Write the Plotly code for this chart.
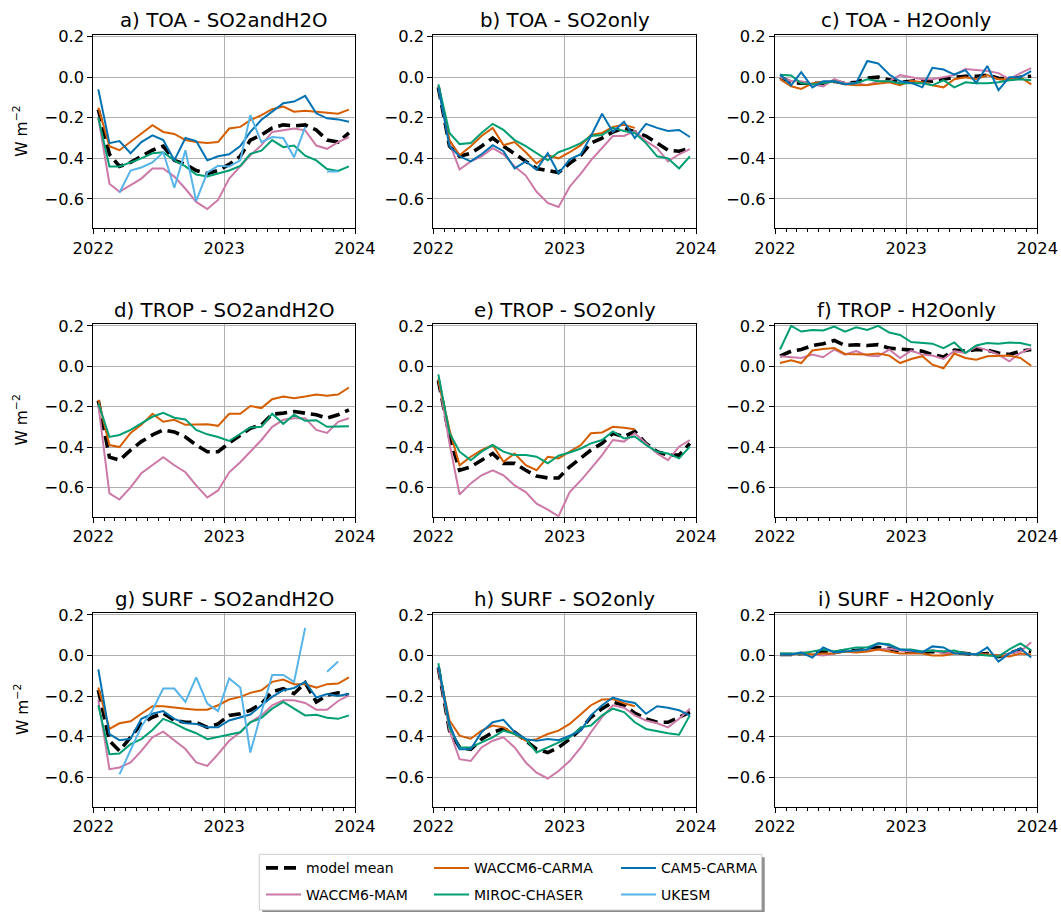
import plotly.graph_objects as go
from plotly.subplots import make_subplots

N = None

# ---------------- data ----------------
dates = ["2022-01-15", "2022-02-15", "2022-03-15", "2022-04-15", "2022-05-15", "2022-06-15",
         "2022-07-15", "2022-08-15", "2022-09-15", "2022-10-15", "2022-11-15", "2022-12-15",
         "2023-01-15", "2023-02-15", "2023-03-15", "2023-04-15", "2023-05-15", "2023-06-15",
         "2023-07-15", "2023-08-15", "2023-09-15", "2023-10-15", "2023-11-15", "2023-12-15"]

model_names = ["model mean", "WACCM6-MAM", "WACCM6-CARMA", "MIROC-CHASER", "CAM5-CARMA", "UKESM"]
model_colors = ["#000000", "#CC79A7", "#D55E00", "#009E73", "#0072B2", "#56B4E9"]

panel_titles = ["a) TOA - SO2andH2O", "b) TOA - SO2only", "c) TOA - H2Oonly",
                "d) TROP - SO2andH2O", "e) TROP - SO2only", "f) TROP - H2Oonly",
                "g) SURF - SO2andH2O", "h) SURF - SO2only", "i) SURF - H2Oonly"]

y_tickvals = [0.2, 0.0, -0.2, -0.4, -0.6]
y_ticktext = ["0.2", "0.0", "\u22120.2", "\u22120.4", "\u22120.6"]
x_tickvals = ["2022-01-01", "2023-01-01", "2024-01-01"]
x_ticktext = ["2022", "2023", "2024"]

# a) TOA - SO2andH2O
a_mean = [-0.16, -0.38, -0.44, -0.42, -0.39, -0.36, -0.34, -0.41, -0.43, -0.46, -0.475, -0.46,
          -0.43, -0.39, -0.31, -0.285, -0.25, -0.235, -0.24, -0.235, -0.26, -0.31, -0.32, -0.275]
a_mam = [-0.2, -0.525, -0.565, -0.53, -0.5, -0.45, -0.45, -0.49, -0.55, -0.615, -0.65, -0.605,
         -0.5, -0.44, -0.385, -0.335, -0.27, -0.262, -0.253, -0.262, -0.337, -0.353, -0.32, -0.295]
a_carma = [-0.15, -0.34, -0.36, -0.32, -0.28, -0.237, -0.27, -0.28, -0.31, -0.32, -0.325, -0.32,
           -0.253, -0.245, -0.212, -0.187, -0.158, -0.145, -0.17, -0.165, -0.17, -0.175, -0.18, -0.16]
a_miroc = [-0.2, -0.44, -0.44, -0.42, -0.40, -0.375, -0.37, -0.41, -0.44, -0.48, -0.49, -0.475,
           -0.46, -0.437, -0.378, -0.362, -0.31, -0.345, -0.337, -0.387, -0.41, -0.453, -0.462, -0.44]
a_cam5 = [-0.06, -0.325, -0.315, -0.375, -0.32, -0.287, -0.31, -0.41, -0.30, -0.315, -0.41, -0.39,
          -0.38, -0.34, -0.27, -0.21, -0.17, -0.128, -0.12, -0.092, -0.178, -0.203, -0.208, -0.22]
a_ukesm = [N, N, -0.57, -0.46, -0.445, -0.42, -0.37, -0.545, -0.36, -0.61, -0.47, -0.437,
           -0.44, -0.41, -0.187, -0.32, -0.295, -0.30, -0.395, -0.245, N, -0.465, -0.465, N]

# b) TOA - SO2only
b_mean = [-0.05, -0.34, -0.39, -0.375, -0.34, -0.30, -0.34, -0.375, -0.415, -0.45, -0.46, -0.47,
          -0.425, -0.385, -0.325, -0.30, -0.27, -0.25, -0.27, -0.29, -0.325, -0.36, -0.365, -0.35]
b_mam = [-0.045, -0.325, -0.455, -0.415, -0.39, -0.35, -0.38, -0.44, -0.485, -0.565, -0.62, -0.64,
         -0.54, -0.475, -0.41, -0.35, -0.29, -0.29, -0.265, -0.315, -0.35, -0.415, -0.38, -0.355]
b_carma = [-0.045, -0.31, -0.385, -0.34, -0.29, -0.25, -0.335, -0.32, -0.37, -0.425, -0.385, -0.40,
           -0.37, -0.335, -0.285, -0.275, -0.245, -0.235, -0.25, N, N, N, N, N]
b_miroc = [-0.035, -0.275, -0.33, -0.325, -0.275, -0.23, -0.26, -0.31, -0.34, -0.375, -0.41, -0.37,
           -0.35, -0.325, -0.29, -0.285, -0.25, -0.265, -0.275, -0.325, -0.39, -0.40, -0.45, -0.39]
b_cam5 = [-0.05, -0.34, -0.39, -0.415, -0.38, -0.335, -0.365, -0.45, -0.415, -0.455, -0.375, -0.475,
          -0.405, -0.38, -0.29, -0.18, -0.27, -0.22, -0.30, -0.23, -0.25, -0.265, -0.26, -0.295]

# c) TOA - H2Oonly
c_mean = [0.0, -0.025, -0.03, -0.03, -0.03, -0.02, -0.03, -0.025, -0.005, 0.0, -0.015, -0.025,
          -0.02, -0.015, -0.02, -0.01, 0.0, 0.005, 0.005, 0.01, -0.005, -0.01, 0.0, 0.005]
c_mam = [0.0, -0.02, -0.02, -0.035, -0.045, -0.01, -0.03, -0.03, -0.04, -0.02, -0.02, 0.01,
         0.0, -0.01, -0.01, 0.0, 0.01, 0.04, 0.035, 0.03, 0.02, -0.01, 0.02, 0.045]
c_carma = [-0.01, -0.045, -0.058, -0.03, -0.025, -0.02, -0.035, -0.04, -0.038, -0.03, -0.025, -0.04,
           -0.018, -0.025, -0.04, -0.05, -0.01, 0.0, -0.01, 0.01, -0.01, -0.01, 0.0, -0.035]
c_miroc = [0.012, 0.008, -0.03, -0.035, -0.03, -0.02, -0.035, -0.03, -0.01, -0.02, -0.02, -0.03,
           -0.03, -0.03, -0.04, -0.015, -0.05, -0.025, -0.03, -0.03, -0.025, -0.015, -0.01, -0.015]
c_cam5 = [0.013, -0.04, 0.025, -0.05, -0.02, -0.02, -0.035, -0.028, 0.08, 0.068, 0.013, -0.02,
          -0.028, -0.05, 0.046, 0.038, 0.013, 0.035, -0.028, 0.055, -0.064, 0.0, 0.0, 0.03]

# d) TROP - SO2andH2O
d_mean = [-0.17, -0.45, -0.465, -0.415, -0.373, -0.34, -0.315, -0.325, -0.35, -0.39, -0.423, -0.423,
          -0.38, -0.34, -0.307, -0.29, -0.237, -0.232, -0.224, -0.232, -0.24, -0.257, -0.24, -0.216]
d_mam = [-0.19, -0.63, -0.66, -0.60, -0.53, -0.49, -0.45, -0.49, -0.525, -0.59, -0.65, -0.615,
         -0.525, -0.475, -0.425, -0.365, -0.30, -0.265, -0.257, -0.257, -0.315, -0.33, -0.275, -0.257]
d_carma = [-0.166, -0.39, -0.40, -0.33, -0.29, -0.235, -0.275, -0.265, -0.29, -0.287, -0.287, -0.295,
           -0.235, -0.235, -0.197, -0.207, -0.163, -0.15, -0.158, -0.15, -0.14, -0.146, -0.14, -0.105]
d_miroc = [-0.183, -0.35, -0.34, -0.315, -0.283, -0.25, -0.23, -0.255, -0.263, -0.315, -0.337, -0.35,
           -0.37, -0.337, -0.303, -0.30, -0.235, -0.285, -0.24, -0.27, -0.267, -0.30, -0.30, -0.297]

# e) TROP - SO2only
e_mean = [-0.07, -0.348, -0.515, -0.498, -0.465, -0.432, -0.481, -0.481, -0.515, -0.544, -0.553, -0.553,
          -0.498, -0.456, -0.415, -0.382, -0.332, -0.348, -0.323, -0.382, -0.423, -0.44, -0.44, -0.382]
e_mam = [-0.058, -0.382, -0.635, -0.58, -0.54, -0.515, -0.54, -0.59, -0.623, -0.68, -0.71, -0.743,
         -0.623, -0.565, -0.507, -0.44, -0.365, -0.373, -0.332, -0.382, -0.432, -0.465, -0.398, -0.365]
e_carma = [-0.066, -0.315, -0.49, -0.448, -0.415, -0.39, -0.473, -0.432, -0.49, -0.515, -0.448, -0.456,
           -0.423, -0.39, -0.332, -0.328, -0.30, -0.304, -0.312, N, N, N, N, N]
e_miroc = [-0.04, -0.33, -0.423, -0.465, -0.423, -0.39, -0.423, -0.44, -0.44, -0.448, -0.48, -0.443,
           -0.427, -0.407, -0.382, -0.365, -0.323, -0.357, -0.348, -0.39, -0.423, -0.432, -0.456, -0.398]

# f) TROP - H2Oonly
f_mean = [0.05, 0.075, 0.083, 0.103, 0.112, 0.128, 0.103, 0.107, 0.103, 0.107, 0.09, 0.083,
          0.08, 0.075, 0.058, 0.046, 0.08, 0.075, 0.083, 0.08, 0.066, 0.058, 0.075, 0.083]
f_mam = [0.05, 0.045, 0.041, 0.058, 0.045, 0.083, 0.058, 0.075, 0.053, 0.05, 0.083, 0.041,
         0.078, 0.058, 0.053, 0.036, 0.075, 0.066, 0.096, 0.08, 0.058, 0.025, 0.066, 0.09]
f_carma = [0.016, 0.03, 0.016, 0.078, 0.086, 0.09, 0.061, 0.061, 0.058, 0.063, 0.053, 0.016,
           0.036, 0.05, 0.008, -0.01, 0.063, 0.041, 0.033, 0.05, 0.053, 0.053, 0.041, 0.003]
f_miroc = [0.083, 0.20, 0.172, 0.18, 0.177, 0.197, 0.172, 0.193, 0.18, 0.20, 0.167, 0.155,
           0.12, 0.115, 0.112, 0.09, 0.118, 0.066, 0.103, 0.115, 0.112, 0.118, 0.115, 0.103]

# g) SURF - SO2andH2O
g_mean = [-0.17, -0.42, -0.47, -0.403, -0.337, -0.304, -0.284, -0.32, -0.329, -0.329, -0.354, -0.337,
          -0.295, -0.287, -0.27, -0.237, -0.179, -0.163, -0.188, -0.134, -0.229, -0.196, -0.184, -0.196]
g_mam = [-0.22, -0.56, -0.552, -0.527, -0.47, -0.403, -0.375, -0.417, -0.461, -0.527, -0.544, -0.486,
         -0.42, -0.378, -0.329, -0.295, -0.245, -0.221, -0.221, -0.234, -0.267, -0.267, -0.224, -0.196]
g_carma = [-0.158, -0.362, -0.334, -0.324, -0.287, -0.25, -0.25, -0.257, -0.262, -0.267, -0.267, -0.245,
           -0.217, -0.204, -0.184, -0.171, -0.13, -0.118, -0.141, -0.141, -0.158, -0.141, -0.138, -0.108]
g_miroc = [-0.245, -0.486, -0.483, -0.437, -0.412, -0.367, -0.312, -0.334, -0.362, -0.383, -0.412, -0.40,
           -0.39, -0.378, -0.329, -0.307, -0.262, -0.229, -0.262, -0.295, -0.292, -0.307, -0.312, -0.295]
g_cam5 = [-0.068, -0.387, -0.417, -0.41, -0.312, -0.287, -0.274, -0.312, -0.334, -0.337, -0.354, -0.354,
          -0.32, -0.304, -0.291, -0.245, -0.204, -0.171, -0.16, -0.13, -0.207, -0.19, -0.2, -0.188]
g_ukesm = [N, N, -0.586, -0.47, -0.35, -0.27, -0.163, -0.163, -0.229, -0.108, -0.237, -0.274,
           -0.113, -0.158, -0.478, -0.28, -0.096, -0.096, -0.13, 0.136, N, -0.08, -0.03, N]

# h) SURF - SO2only
h_mean = [-0.06, -0.37, -0.453, -0.462, -0.412, -0.378, -0.362, -0.378, -0.42, -0.462, -0.478, -0.453,
          -0.412, -0.362, -0.304, -0.262, -0.229, -0.245, -0.284, -0.312, -0.329, -0.329, -0.304, -0.279]
h_mam = [-0.063, -0.37, -0.511, -0.52, -0.453, -0.42, -0.403, -0.453, -0.527, -0.577, -0.606, -0.569,
         -0.52, -0.453, -0.378, -0.304, -0.245, -0.257, -0.295, -0.32, -0.334, -0.354, -0.312, -0.262]
h_carma = [-0.063, -0.32, -0.395, -0.41, -0.37, -0.345, -0.354, -0.387, -0.42, -0.412, -0.387, -0.37,
           -0.337, -0.29, -0.245, -0.217, -0.215, -0.235, -0.25, N, N, N, N, N]
h_miroc = [-0.038, -0.354, -0.453, -0.453, -0.428, -0.403, -0.37, -0.387, -0.412, -0.478, -0.453, -0.428,
           -0.403, -0.354, -0.345, -0.295, -0.262, -0.279, -0.329, -0.362, -0.373, -0.383, -0.39, -0.295]
h_cam5 = [-0.055, -0.337, -0.462, -0.462, -0.378, -0.329, -0.317, -0.378, -0.412, -0.42, -0.412, -0.417,
          -0.395, -0.37, -0.295, -0.245, -0.207, -0.224, -0.234, -0.287, -0.25, -0.257, -0.27, -0.295]

# i) SURF - H2Oonly
i_mean = [0.005, 0.005, 0.01, 0.01, 0.02, 0.015, 0.025, 0.025, 0.03, 0.04, 0.035, 0.02,
          0.02, 0.015, 0.02, 0.015, 0.015, 0.01, 0.005, 0.01, -0.005, 0.01, 0.03, 0.02]
i_mam = [0.005, 0.005, 0.01, 0.005, 0.0, 0.01, 0.02, 0.02, 0.025, 0.03, 0.035, 0.025,
         0.02, 0.02, 0.025, 0.01, 0.015, 0.01, 0.005, 0.005, 0.0, 0.01, 0.02, 0.065]
i_carma = [0.005, 0.005, 0.01, 0.005, 0.01, 0.01, 0.02, 0.015, 0.02, 0.03, 0.02, 0.01,
           0.01, 0.01, 0.0, 0.0, 0.01, 0.01, 0.005, 0.005, 0.0, -0.005, 0.01, 0.005]
i_miroc = [0.01, 0.01, 0.01, 0.02, 0.03, 0.02, 0.03, 0.04, 0.04, 0.06, 0.055, 0.03,
           0.03, 0.02, 0.025, 0.02, 0.025, 0.01, 0.005, 0.0, -0.005, 0.03, 0.06, 0.025]
i_cam5 = [0.005, 0.005, 0.015, -0.01, 0.04, 0.015, 0.02, 0.025, 0.03, 0.06, 0.05, 0.03,
          0.025, 0.015, 0.045, 0.04, 0.01, 0.01, 0.005, 0.04, -0.03, 0.01, 0.035, -0.01]

# series per panel, in model_names order (None = model absent in that panel)
panel_series = [
    [a_mean, a_mam, a_carma, a_miroc, a_cam5, a_ukesm],
    [b_mean, b_mam, b_carma, b_miroc, b_cam5, None],
    [c_mean, c_mam, c_carma, c_miroc, c_cam5, None],
    [d_mean, d_mam, d_carma, d_miroc, None, None],
    [e_mean, e_mam, e_carma, e_miroc, None, None],
    [f_mean, f_mam, f_carma, f_miroc, None, None],
    [g_mean, g_mam, g_carma, g_miroc, g_cam5, g_ukesm],
    [h_mean, h_mam, h_carma, h_miroc, h_cam5, None],
    [i_mean, i_mam, i_carma, i_miroc, i_cam5, None],
]

# ---------------- layout geometry (pixels) ----------------
W, H = 1061, 912
col_px = [(93.3, 355.0), (433.3, 696.0), (775.0, 1037.3)]
row_px = [(35.0, 228.3), (324.3, 516.7), (613.3, 806.7)]
YRANGE = [-0.745, 0.208]
FONT = "DejaVu Sans"
TICK_FS = 16.3
TITLE_FS = 19.8
LEGEND_FS = 14
YLABEL_FS = 15.5

def px_x(p):
    return p / W

def px_y(p):
    return 1 - p / H

fig = make_subplots(rows=3, cols=3)

legend_names = ["legend", "legend2", "legend3", "legend4", "legend5", "legend6"]

for p in range(9):
    r, c = divmod(p, 3)
    for m, series in enumerate(panel_series[p]):
        if series is None:
            continue
        is_mean = (m == 0)
        fig.add_trace(
            go.Scatter(
                x=dates, y=series, mode="lines", name=model_names[m],
                line=dict(color=model_colors[m], width=3.6 if is_mean else 2,
                          dash="12px,6px" if is_mean else "solid"),
                connectgaps=False,
                showlegend=(p == 0),
                legend=legend_names[m],
                hoverinfo="skip",
            ),
            row=r + 1, col=c + 1,
        )

for p in range(9):
    r, c = divmod(p, 3)
    idx = "" if p == 0 else str(p + 1)
    x0, x1 = col_px[c]
    y0, y1 = row_px[r]
    fig.layout["xaxis" + idx].update(
        domain=[px_x(x0), px_x(x1)], type="date",
        range=["2022-01-01", "2024-01-01"],
        tickmode="array", tickvals=x_tickvals, ticktext=x_ticktext,
        ticks="outside", ticklen=5, tickwidth=1, tickcolor="black",
        showline=True, linecolor="black", linewidth=1, mirror=True,
        showgrid=True, gridcolor="#b0b0b0", gridwidth=1, zeroline=False,
        tickfont=dict(family=FONT, size=TICK_FS, color="black"),
        minor=dict(ticks="outside", ticklen=3, tickwidth=1, tickcolor="black",
                   dtick="M1", tick0="2022-01-01", showgrid=False),
        automargin=False, fixedrange=True,
    )
    fig.layout["yaxis" + idx].update(
        domain=[px_y(y1), px_y(y0)], range=YRANGE,
        tickmode="array", tickvals=y_tickvals, ticktext=y_ticktext,
        ticks="outside", ticklen=5, tickwidth=1, tickcolor="black",
        showline=True, linecolor="black", linewidth=1, mirror=True,
        showgrid=True, gridcolor="#b0b0b0", gridwidth=1, zeroline=False,
        tickfont=dict(family=FONT, size=TICK_FS, color="black"),
        automargin=False, fixedrange=True,
    )
    fig.add_annotation(
        text=panel_titles[p], xref="paper", yref="paper",
        x=px_x((x0 + x1) / 2), y=px_y(y0 - 14), xanchor="center", yanchor="middle",
        showarrow=False, font=dict(family=FONT, size=TITLE_FS, color="black"),
    )
    if c == 0:
        fig.add_annotation(
            text="W m<sup>\u22122</sup>", xref="paper", yref="paper",
            x=px_x(21), y=px_y((y0 + y1) / 2), xanchor="center", yanchor="middle",
            textangle=-90, showarrow=False,
            font=dict(family=FONT, size=YLABEL_FS, color="black"),
        )

# legend frame with shadow
lx0, lx1, ly0, ly1 = 259.3, 761.7, 854.3, 910.0
fig.add_shape(type="rect", xref="paper", yref="paper",
              x0=px_x(lx0 + 3), x1=px_x(lx1 + 3), y0=px_y(ly1 + 3), y1=px_y(ly0 + 3),
              fillcolor="rgba(0,0,0,0.45)", line=dict(width=0), layer="above")
fig.add_shape(type="rect", xref="paper", yref="paper",
              x0=px_x(lx0), x1=px_x(lx1), y0=px_y(ly1), y1=px_y(ly0),
              fillcolor="white", line=dict(color="#cccccc", width=1), layer="above")

leg_pos = [(261, 868.3), (261, 895.0), (429, 868.3), (429, 895.0), (616, 868.3), (616, 895.0)]
legend_layouts = {}
for k, name in enumerate(legend_names):
    lxp, lyp = leg_pos[k]
    legend_layouts[name] = dict(
        x=px_x(lxp), y=px_y(lyp), xanchor="left", yanchor="middle",
        bgcolor="rgba(0,0,0,0)", borderwidth=0, itemwidth=35,
        font=dict(family=FONT, size=LEGEND_FS, color="black"),
        itemclick=False, itemdoubleclick=False,
    )

fig.update_layout(
    width=W, height=H,
    margin=dict(l=0, r=0, t=0, b=0),
    paper_bgcolor="white", plot_bgcolor="white",
    font=dict(family=FONT, size=TICK_FS, color="black"),
    **legend_layouts,
)

fig.write_html("out.html")
